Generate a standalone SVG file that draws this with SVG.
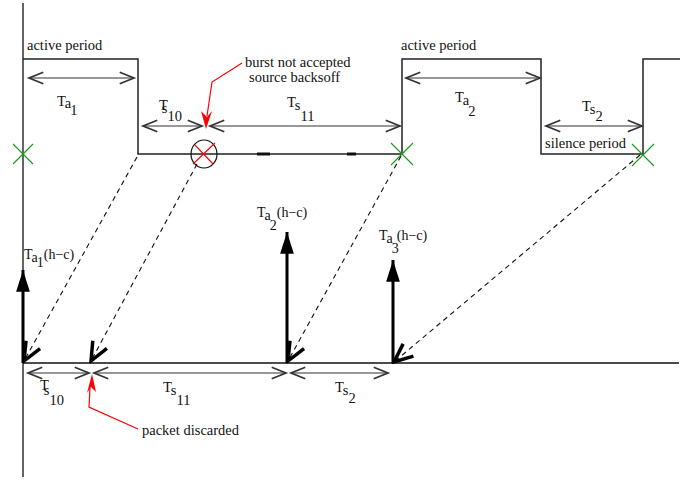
<svg xmlns="http://www.w3.org/2000/svg" width="699" height="481" viewBox="0 0 699 481">
<style>
text{font-family:'Liberation Serif','DejaVu Serif',serif;fill:#111;font-size:14.5px}
.ln{stroke:#111;stroke-width:1.3;fill:none}
.wave{stroke:#222;stroke-width:1.5;fill:none}
.dim{stroke:#333;stroke-width:1.1;fill:none;marker-start:url(#dh);marker-end:url(#dh)}
.dash{stroke:#111;stroke-width:1.1;fill:none;stroke-dasharray:5 4;marker-end:url(#oh)}
.up{stroke:#000;stroke-width:3;fill:none;marker-end:url(#fh)}
.gx{stroke:#1a9a1a;stroke-width:1.1}
.red{stroke:#f00;stroke-width:1.2;fill:none}
.sm{font-size:14px}
</style>
<defs>
<marker id="dh" markerUnits="userSpaceOnUse" markerWidth="20" markerHeight="20" viewBox="-12 -6 14 12" refX="0" refY="0" orient="auto-start-reverse">
<path d="M-10,-4 L0,0 L-10,4" fill="none" stroke="#333" stroke-width="1.2"/>
</marker>
<marker id="oh" markerUnits="userSpaceOnUse" markerWidth="24" markerHeight="24" viewBox="-16 -9 18 18" refX="0" refY="0" orient="auto">
<path d="M-14,-6 L0,0 L-14,6" fill="none" stroke="#000" stroke-width="2.6"/>
</marker>
<marker id="fh" markerUnits="userSpaceOnUse" markerWidth="24" markerHeight="24" viewBox="-20 -7 21 14" refX="0" refY="0" orient="auto">
<path d="M-19,-6 L0,0 L-19,6 Z" fill="#000"/>
</marker>
</defs>

<g id="axes">
<line class="ln" x1="23" y1="3" x2="23" y2="477"/>
<line class="ln" x1="23" y1="363" x2="679" y2="363"/>
</g>

<g id="waveform">
<polyline class="wave" points="23,59 138,59 138,154 402,154 402,59 541,59 541,154 643,154 643,59 680,59"/>
<line x1="257" y1="154" x2="270" y2="154" stroke="#111" stroke-width="3"/>
<line x1="347" y1="154" x2="356" y2="154" stroke="#111" stroke-width="3"/>
</g>

<g id="labels-top" font-family="Liberation Serif, DejaVu Serif, serif">
<text x="27" y="50">active period</text>
<text x="401" y="50">active period</text>
<text x="545" y="148">silence period</text>
</g>

<g id="dimensions-top" font-family="Liberation Serif, DejaVu Serif, serif">
<line class="dim" x1="29" y1="78" x2="134" y2="78"/>
<text x="57" y="106">T<tspan dy="2">a</tspan><tspan dx="-1" dy="7">1</tspan></text>
<line class="dim" x1="143" y1="126" x2="202" y2="126"/>
<text x="159" y="110">T<tspan dx="-5" dy="3">s</tspan><tspan dy="8">10</tspan></text>
<line class="dim" x1="210" y1="126" x2="400" y2="126"/>
<text x="287" y="107">T<tspan dy="3">s</tspan><tspan dy="11">11</tspan></text>
<line class="dim" x1="406" y1="78" x2="540" y2="78"/>
<text x="455" y="102">T<tspan dy="3">a</tspan><tspan dx="-1" dy="11">2</tspan></text>
<line class="dim" x1="546" y1="126" x2="642" y2="126"/>
<text x="582" y="111">T<tspan dy="3">s</tspan><tspan dy="7">2</tspan></text>
</g>

<g id="markers-green">
<path class="gx" d="M13,144 L33,164 M13,164 L33,144"/>
<path class="gx" d="M391,143 L413,165 M391,165 L413,143"/>
<path class="gx" d="M632,144 L654,166 M632,166 L654,144"/>
</g>

<g id="rejected-burst" font-family="Liberation Serif, DejaVu Serif, serif">
<ellipse cx="204" cy="154" rx="13" ry="14" fill="none" stroke="#111" stroke-width="1.2"/>
<path d="M193,164 L215,143 M195,145 L213,164" stroke="#f00" stroke-width="1.1" fill="none"/>
<polyline class="red" points="242,63 212,82 207,116"/>
<path d="M206,129 L201,111 L207,117 L212,111 Z" fill="#f00"/>
<text x="245" y="67">burst not accepted</text>
<text x="249" y="82">source backsoff</text>
</g>

<g id="connectors">
<line class="dash" x1="137" y1="157" x2="24" y2="361"/>
<line class="dash" x1="197" y1="164" x2="91" y2="361"/>
<line class="dash" x1="401" y1="156" x2="288" y2="361"/>
<line class="dash" x1="640" y1="155" x2="394" y2="362"/>
</g>

<g id="bursts" font-family="Liberation Serif, DejaVu Serif, serif">
<line class="up" x1="23" y1="363" x2="23" y2="270"/>
<text class="sm" x="24" y="259">T<tspan dy="3">a</tspan><tspan dx="-1" dy="5">1</tspan><tspan dy="-8">(h−c)</tspan></text>
<line class="up" x1="287" y1="363" x2="287" y2="232"/>
<text class="sm" x="257" y="217">T<tspan dy="3">a</tspan><tspan dx="-1" dy="10">2</tspan><tspan dy="-13">(h−c)</tspan></text>
<line class="up" x1="393" y1="363" x2="393" y2="260"/>
<text class="sm" x="379" y="240">T<tspan dy="3">a</tspan><tspan dx="-1" dy="10">3</tspan><tspan dx="-2" dy="-13">(h−c)</tspan></text>
</g>

<g id="dimensions-bottom" font-family="Liberation Serif, DejaVu Serif, serif">
<line class="dim" x1="28" y1="373" x2="89" y2="373"/>
<text x="40" y="390">T<tspan dx="-4" dy="5">s</tspan><tspan dy="10">10</tspan></text>
<line class="dim" x1="94" y1="373" x2="286" y2="373"/>
<text x="163" y="392">T<tspan dy="3">s</tspan><tspan dy="10">11</tspan></text>
<line class="dim" x1="291" y1="373" x2="388" y2="373"/>
<text x="335" y="392">T<tspan dy="3">s</tspan><tspan dy="8">2</tspan></text>
</g>

<g id="packet-discarded" font-family="Liberation Serif, DejaVu Serif, serif">
<polyline class="red" points="138,429 89,407 90,388"/>
<path d="M92,374 L87,393 L91,387 L96,392 Z" fill="#f00"/>
<text x="142" y="435">packet discarded</text>
</g>
</svg>
